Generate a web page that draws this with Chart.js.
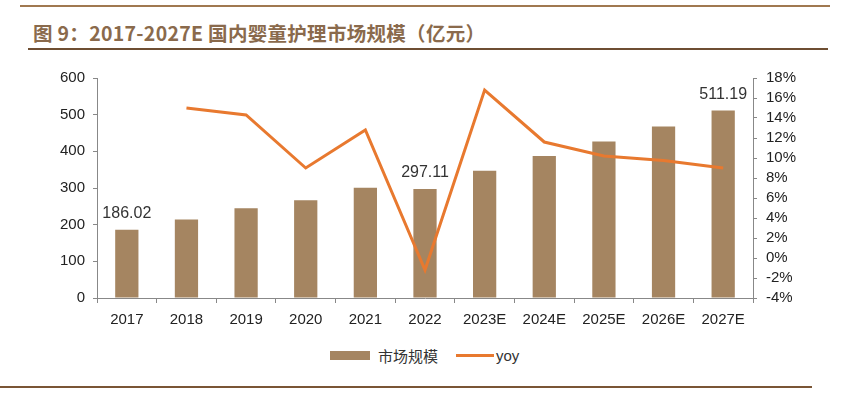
<!DOCTYPE html>
<html>
<head>
<meta charset="utf-8">
<script src="https://cdn.jsdelivr.net/npm/chart.js@4.4.1/dist/chart.umd.min.js"></script>
<style>
  html, body { margin: 0; padding: 0; background: #fff; }
  #page { position: relative; width: 843px; height: 396px; overflow: hidden; background: #fff; }
  #topline { position: absolute; left: 20px; top: 5px; width: 810px; height: 2px; background: #a07850; }
  #title { position: absolute; left: 33px; top: 18px; font: bold 19.5px "Noto Sans CJK SC", sans-serif; color: #8a6a4c; letter-spacing: 0.3px; }
  #rule1 { position: absolute; left: 28px; top: 48px; width: 800px; height: 2px; background: #6e4e32; }
  #rule2 { position: absolute; left: 0px; top: 386px; width: 812px; height: 2px; background: #7a5535; }
  #wrap { position: absolute; left: 0; top: 60px; width: 843px; height: 280px; }
  #legend { position: absolute; top: 345px; left: 330px; font: 15px "Noto Sans CJK SC", sans-serif; color: #333; display: flex; align-items: center; }
  .sw-bar { display: inline-block; width: 40px; height: 9px; background: #a58561; margin-right: 8px; }
  .sw-line { display: inline-block; width: 38px; height: 3px; background: #e8792f; margin-left: 18px; margin-right: 2px; }
  #legend .yoy { font-family: "Liberation Sans", Arial, sans-serif; }
</style>
</head>
<body>
<div id="page">
  <div id="topline"></div>
  <div id="title">图 9：2017-2027E 国内婴童护理市场规模（亿元）</div>
  <div id="rule1"></div>
  <div id="wrap"><canvas id="c" width="843" height="280"></canvas></div>
  <div id="legend"><span class="sw-bar"></span><span>市场规模</span><span class="sw-line"></span><span class="yoy">yoy</span></div>
  <div id="rule2"></div>
</div>
<script>
    // 數據
    const years = ['2017', '2018', '2019', '2020', '2021', '2022', '2023E', '2024E', '2025E', '2026E', '2027E'];
    const marketSize = [186.02, 214, 244.5, 266.4, 300.5, 297.11, 347, 387, 426.5, 468, 511.19];
    const yoy = [null, 15.0, 14.3, 9.0, 12.8, -1.2, 16.8, 11.6, 10.2, 9.75, 9.0];
    const labelled = { 0: '186.02', 5: '297.11', 10: '511.19' };

    const numFont = { family: '"Liberation Sans", Arial, sans-serif', size: 15 };

    // 在柱子上方寫數值
    const barLabels = {
        id: 'barLabels',
        afterDatasetsDraw(chart) {
            const ctx = chart.ctx;
            const meta = chart.getDatasetMeta(0);
            ctx.save();
            ctx.font = '16px "Liberation Sans", Arial, sans-serif';
            ctx.fillStyle = '#333';
            ctx.textAlign = 'center';
            ctx.textBaseline = 'bottom';
            Object.keys(labelled).forEach(i => {
                const bar = meta.data[i];
                ctx.fillText(labelled[i], bar.x, bar.y - 8);
            });
            ctx.restore();
        }
    };

    new Chart(document.getElementById('c'), {
        data: {
            labels: years,
            datasets: [
                { type: 'bar', label: '市场规模', data: marketSize, backgroundColor: '#a58561', yAxisID: 'y', barPercentage: 0.78, categoryPercentage: 0.5, order: 2 },
                { type: 'line', label: 'yoy', data: yoy, borderColor: '#e8792f', borderWidth: 3, pointRadius: 0, tension: 0, yAxisID: 'y1', spanGaps: false, order: 1 }
            ]
        },
        options: {
            responsive: false,
            animation: false,
            layout: { padding: { top: 16, left: 0, right: 0, bottom: 0 } },
            plugins: { legend: { display: false }, tooltip: { enabled: false } },
            scales: {
                x: {
                    offset: true,
                    grid: { offset: true, drawOnChartArea: false, drawTicks: true, tickLength: 5, color: '#888' },
                    border: { color: '#888', width: 1 },
                    ticks: { font: numFont, color: '#222', padding: 8 },
                    afterFit(s) { s.height = 42; }
                },
                y: {
                    position: 'left', min: 0, max: 600,
                    grid: { drawOnChartArea: false, tickLength: 4, color: '#888' },
                    border: { color: '#888', width: 1 },
                    ticks: { stepSize: 100, font: numFont, color: '#222', padding: 8 },
                    afterFit(s) { s.width = 97; }
                },
                y1: {
                    position: 'right', min: -4, max: 18,
                    grid: { drawOnChartArea: false, tickLength: 4, color: '#888' },
                    border: { color: '#888', width: 1 },
                    ticks: { stepSize: 2, autoSkip: false, font: numFont, color: '#222', padding: 9, callback: v => v + '%' },
                    afterFit(s) { s.width = 90; }
                }
            }
        },
        plugins: [barLabels]
    });
</script>
</body>
</html>
